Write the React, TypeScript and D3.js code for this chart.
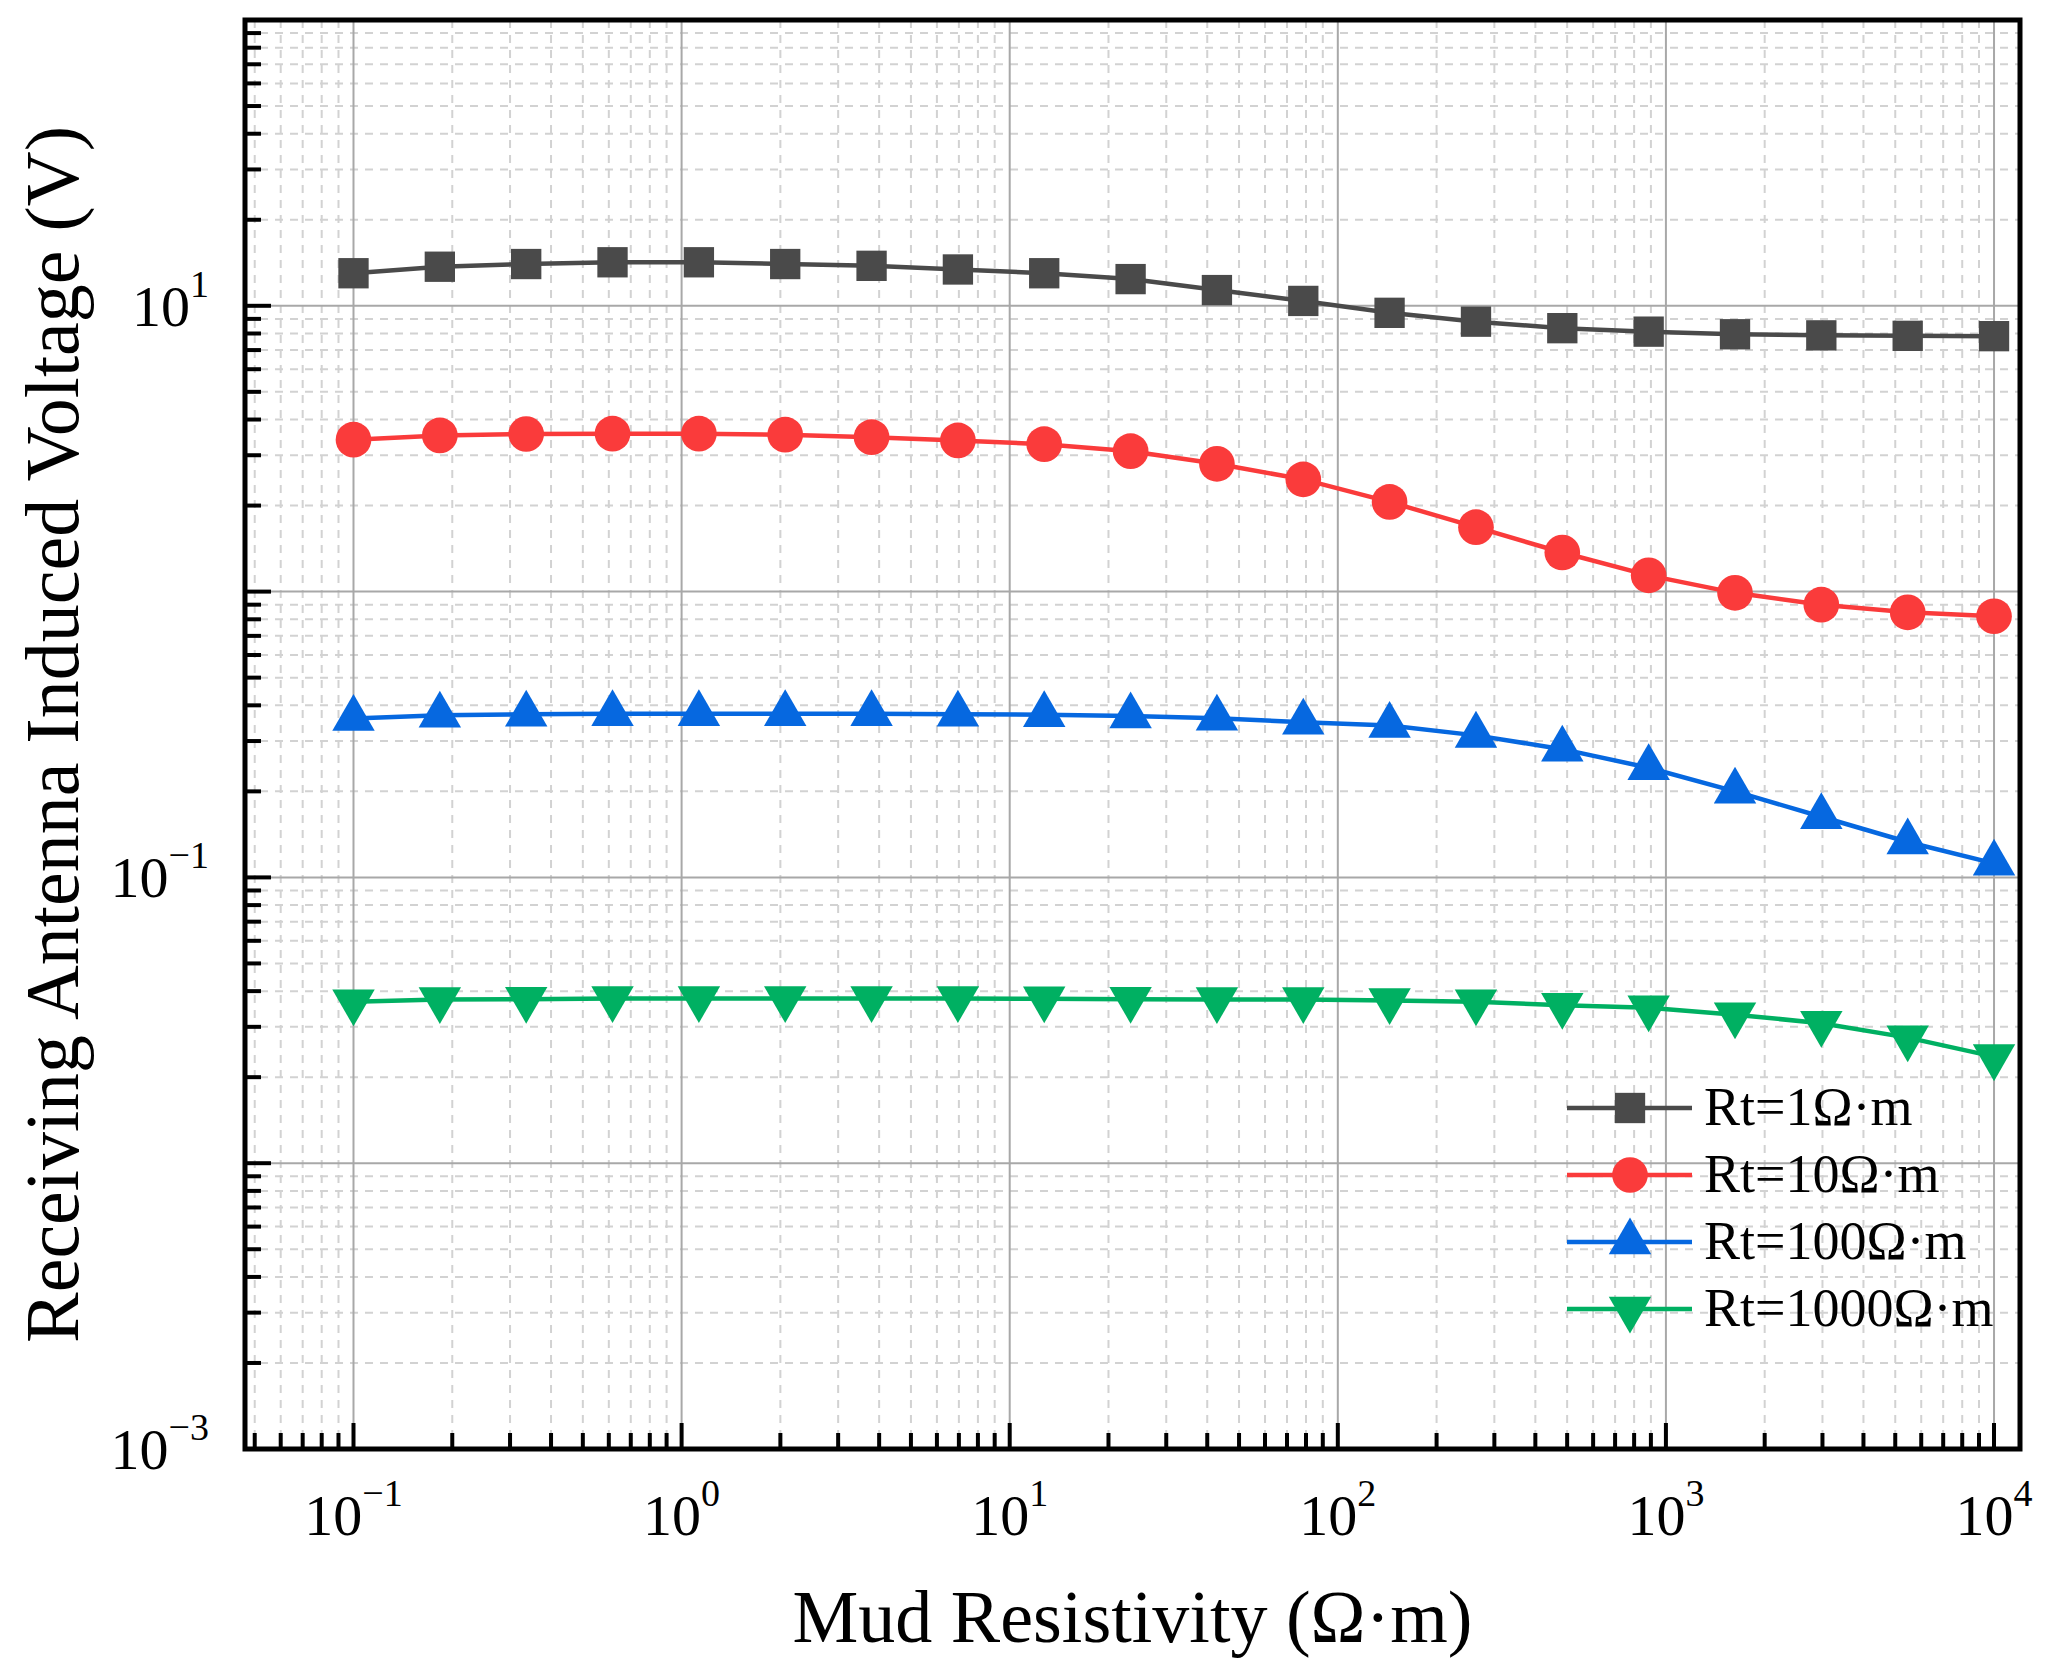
import { useRef, useEffect } from "react";
import * as d3 from "d3";

// Mud resistivity (Ω·m), x positions of every sample
const mudRes = [0.1, 0.1833, 0.336, 0.6158, 1.129, 2.069, 3.793, 6.952, 12.74, 23.36,
  42.81, 78.48, 143.8, 263.7, 483.3, 885.9, 1624, 2976, 5456, 10000];

// Induced voltage (V) for each formation resistivity
const rt1 = [13.0, 13.7, 14.0, 14.2, 14.2, 14.0, 13.8, 13.4, 13.0, 12.4,
  11.35, 10.4, 9.45, 8.8, 8.35, 8.12, 7.95, 7.88, 7.85, 7.83];
const rt10 = [3.40, 3.52, 3.56, 3.57, 3.57, 3.54, 3.47, 3.38, 3.28, 3.10,
  2.80, 2.47, 2.06, 1.68, 1.37, 1.14, 0.99, 0.90, 0.846, 0.82];
const rt100 = [0.360, 0.369, 0.372, 0.374, 0.374, 0.374, 0.374, 0.372, 0.371, 0.367,
  0.3605, 0.349, 0.340, 0.314, 0.281, 0.242, 0.200, 0.163, 0.133, 0.112];
const rt1000 = [0.0367, 0.0374, 0.0375, 0.0377, 0.0377, 0.0377, 0.0377, 0.0377, 0.0376, 0.0375,
  0.0374, 0.0374, 0.0371, 0.0367, 0.0357, 0.0350, 0.0331, 0.0309, 0.0275, 0.0236];

const seriesNames = ["Rt=1Ω·m", "Rt=10Ω·m", "Rt=100Ω·m", "Rt=1000Ω·m"];
const seriesValues = [rt1, rt10, rt100, rt1000];
const seriesColors = ["#4a4a4a", "#fa3b3b", "#0668e0", "#00b062"];
const seriesSymbols = ["square", "circle", "triangle", "triangleDown"];

// Axis ticks (exponents of ten)
const xLabelExps = [-1, 0, 1, 2, 3, 4];
const yMajorExps = [-3, -2, -1, 0, 1, 2];
const yLabelExps = [-3, -1, 1];

const W = 2052;
const H = 1678;
const FONT = "'Liberation Serif', 'Times New Roman', serif";

export default function App() {
  const svgRef = useRef<SVGSVGElement>(null);

  useEffect(() => {
    if (!svgRef.current) return;
    const svg = d3.select(svgRef.current);
    svg.selectAll("*").remove();

    const m = { left: 245, right: 2020, top: 20, bottom: 1449 };
    const x = d3.scaleLog().domain([0.0467, 12000]).range([m.left, m.right]);
    const y = d3.scaleLog().domain([1e-3, 1e2]).range([m.bottom, m.top]);

    const g = svg.append("g");

    // minor values
    const xMinor: number[] = [];
    for (let e = -2; e <= 4; e++) {
      for (let k = 2; k <= 9; k++) {
        const v = k * Math.pow(10, e);
        if (v > x.domain()[0] && v < x.domain()[1]) xMinor.push(v);
      }
    }
    const yMinor: number[] = [];
    for (let e = -3; e <= 1; e++) {
      for (let k = 2; k <= 9; k++) yMinor.push(k * Math.pow(10, e));
    }
    const xMajor = xLabelExps.map(e => Math.pow(10, e));
    const yMajor = yMajorExps.map(e => Math.pow(10, e));

    // Grid: minor dashed
    g.append("g").selectAll("line").data(xMinor).join("line")
      .attr("x1", d => x(d)).attr("x2", d => x(d)).attr("y1", m.top).attr("y2", m.bottom)
      .attr("stroke", "#d2d2d2").attr("stroke-width", 2).attr("stroke-dasharray", "8 7");
    g.append("g").selectAll("line").data(yMinor).join("line")
      .attr("y1", d => y(d)).attr("y2", d => y(d)).attr("x1", m.left).attr("x2", m.right)
      .attr("stroke", "#d2d2d2").attr("stroke-width", 2).attr("stroke-dasharray", "8 7");

    // Grid: major solid
    g.append("g").selectAll("line").data(xMajor).join("line")
      .attr("x1", d => x(d)).attr("x2", d => x(d)).attr("y1", m.top).attr("y2", m.bottom)
      .attr("stroke", "#a8a8a8").attr("stroke-width", 2);
    g.append("g").selectAll("line").data(yMajor.filter(v => v < 100)).join("line")
      .attr("y1", d => y(d)).attr("y2", d => y(d)).attr("x1", m.left).attr("x2", m.right)
      .attr("stroke", "#a8a8a8").attr("stroke-width", 2);

    const symbolFor = (name: string) => {
      if (name === "square") return d3.symbol(d3.symbolSquare, 920)();
      if (name === "circle") return d3.symbol(d3.symbolCircle, 1000)();
      return d3.symbol(d3.symbolTriangle, 780)();
    };
    const rotFor = (name: string) => (name === "triangleDown" ? " rotate(180)" : "");

    // Series
    const line = d3.line<number>().x((_, i) => x(mudRes[i])).y(d => y(d));
    seriesValues.forEach((vals, si) => {
      const sg = g.append("g");
      sg.append("path").datum(vals).attr("d", line)
        .attr("fill", "none").attr("stroke", seriesColors[si]).attr("stroke-width", 4.5);
      sg.selectAll("path.mk").data(vals).join("path").attr("class", "mk")
        .attr("d", symbolFor(seriesSymbols[si]))
        .attr("transform", (d, i) => `translate(${x(mudRes[i])},${y(d)})${rotFor(seriesSymbols[si])}`)
        .attr("fill", seriesColors[si]);
    });

    // Frame
    g.append("rect").attr("x", m.left).attr("y", m.top)
      .attr("width", m.right - m.left).attr("height", m.bottom - m.top)
      .attr("fill", "none").attr("stroke", "#000").attr("stroke-width", 5);

    // Ticks (inside)
    const tk = g.append("g").attr("stroke", "#000").attr("stroke-width", 4);
    tk.selectAll("line.xmaj").data(xMajor).join("line").attr("class", "xmaj")
      .attr("x1", d => x(d)).attr("x2", d => x(d)).attr("y1", m.bottom).attr("y2", m.bottom - 26);
    tk.selectAll("line.xmin").data(xMinor).join("line").attr("class", "xmin")
      .attr("x1", d => x(d)).attr("x2", d => x(d)).attr("y1", m.bottom).attr("y2", m.bottom - 16);
    tk.selectAll("line.ymaj").data(yMajor).join("line").attr("class", "ymaj")
      .attr("y1", d => y(d)).attr("y2", d => y(d)).attr("x1", m.left).attr("x2", m.left + 26);
    tk.selectAll("line.ymin").data(yMinor).join("line").attr("class", "ymin")
      .attr("y1", d => y(d)).attr("y2", d => y(d)).attr("x1", m.left).attr("x2", m.left + 16);

    const expText = (e: number) => (e < 0 ? "\u2212" + Math.abs(e) : String(e));

    // X tick labels
    xLabelExps.forEach(e => {
      const t = g.append("text").attr("x", x(Math.pow(10, e))).attr("y", 1535)
        .attr("text-anchor", "middle").attr("font-family", FONT).attr("font-size", 58).attr("fill", "#000");
      t.append("tspan").text("10");
      t.append("tspan").attr("dy", -29).attr("font-size", 38).text(expText(e));
    });

    // Y tick labels
    yLabelExps.forEach(e => {
      const t = g.append("text").attr("x", 209).attr("y", y(Math.pow(10, e)) + 20)
        .attr("text-anchor", "end").attr("font-family", FONT).attr("font-size", 58).attr("fill", "#000");
      t.append("tspan").text("10");
      t.append("tspan").attr("dy", -29).attr("font-size", 38).text(expText(e));
    });

    // Axis titles
    g.append("text").attr("x", (m.left + m.right) / 2).attr("y", 1642)
      .attr("text-anchor", "middle").attr("font-family", FONT).attr("font-size", 74).attr("fill", "#000")
      .text("Mud Resistivity (Ω·m)");
    g.append("text").attr("transform", `translate(78,${(m.top + m.bottom) / 2}) rotate(-90)`)
      .attr("text-anchor", "middle").attr("font-family", FONT).attr("font-size", 76).attr("fill", "#000")
      .text("Receiving Antenna Induced Voltage (V)");

    // Legend
    const lg = g.append("g");
    seriesNames.forEach((name, i) => {
      const ly = 1108 + i * 67;
      lg.append("line").attr("x1", 1567).attr("x2", 1692).attr("y1", ly).attr("y2", ly)
        .attr("stroke", seriesColors[i]).attr("stroke-width", 4.5);
      lg.append("path").attr("d", symbolFor(seriesSymbols[i]))
        .attr("transform", `translate(1630,${ly})${rotFor(seriesSymbols[i])}`)
        .attr("fill", seriesColors[i]);
      lg.append("text").attr("x", 1704).attr("y", ly + 17)
        .attr("font-family", FONT).attr("font-size", 54).attr("fill", "#000").text(name);
    });
  }, []);

  return (
    <svg ref={svgRef} width={W} height={H}
      style={{ position: "absolute", left: 0, top: 0, background: "#fff", display: "block" }} />
  );
}
